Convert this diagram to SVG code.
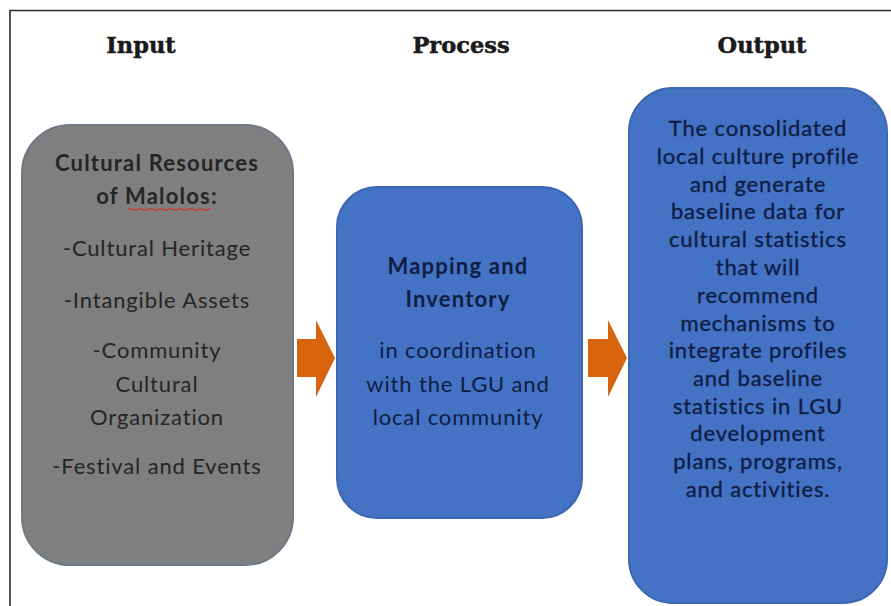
<svg xmlns="http://www.w3.org/2000/svg" width="891" height="606" viewBox="0 0 891 606">
  <defs>
    <style>
      .frame { fill: none; stroke: #2b2b2b; stroke-width: 1.6; }
      .head { font-family: "DejaVu Serif", "Liberation Serif", serif; font-weight: bold; font-size: 22.5px; fill: #1a1a1a; stroke: #1a1a1a; stroke-width: 0.5px; text-anchor: middle; }
      .box-gray { fill: #7f7f7f; stroke: #6f7a88; stroke-width: 2; }
      .box-blue { fill: #4472c4; stroke: #3d66b3; stroke-width: 2; }
      .t { font-family: Lato, "Noto Sans", "Liberation Sans", sans-serif; font-size: 22px; letter-spacing: 0.85px; text-anchor: middle; }
      .t-gray { fill: #252525; }
      .t-blue { fill: #0f1d45; }
      .b { font-weight: bold; letter-spacing: 1.2px; }
      .heavy { stroke: #0f1d45; stroke-width: 0.35px; }
      .arrow { fill: #d8640e; }
    </style>
  </defs>

  <rect width="891" height="606" fill="#ffffff"/>

  <!-- page frame (top and left rules) -->
  <path class="frame" d="M10 606 V10.5 H891"/>

  <!-- column headings -->
  <g id="headings">
    <text class="head" x="141" y="53">Input</text>
    <text class="head" x="461" y="53">Process</text>
    <text class="head" x="762" y="53">Output</text>
  </g>

  <!-- Input -->
  <g id="input">
    <rect class="box-gray" x="22" y="125" width="271" height="440" rx="48" ry="48"/>
    <text class="t t-gray b" x="157" y="171">Cultural Resources</text>
    <text class="t t-gray b" x="157" y="204">of Malolos:</text>
    <path d="M128 209.5 q2.5 -1.5 5 0 t5 0 t5 0 t5 0 t5 0 t5 0 t5 0 t5 0 t5 0 t5 0 t5 0 t5 0 t5 0 t5 0 t5 0 t5 0 t2 0" fill="none" stroke="#cc3a30" stroke-width="1.3"/>
    <text class="t t-gray" x="157" y="256">-Cultural Heritage</text>
    <text class="t t-gray" x="157" y="308">-Intangible Assets</text>
    <text class="t t-gray" x="157" y="358">-Community</text>
    <text class="t t-gray" x="157" y="392">Cultural</text>
    <text class="t t-gray" x="157" y="425">Organization</text>
    <text class="t t-gray" x="157" y="474">-Festival and Events</text>
  </g>

  <!-- Process -->
  <g id="process">
    <rect class="box-blue" x="337" y="187" width="245" height="331" rx="40" ry="40"/>
    <text class="t t-blue b" x="458" y="274">Mapping and</text>
    <text class="t t-blue b" x="458" y="307">Inventory</text>
    <text class="t t-blue" x="458" y="358">in coordination</text>
    <text class="t t-blue" x="458" y="392">with the LGU and</text>
    <text class="t t-blue" x="458" y="425">local community</text>
  </g>

  <!-- Output -->
  <g id="output">
    <rect class="box-blue" x="629" y="88" width="258" height="515" rx="44" ry="44"/>
    <g class="t t-blue heavy">
      <text x="758" y="136">The consolidated</text>
      <text x="758" y="164">local culture profile</text>
      <text x="758" y="192">and generate</text>
      <text x="758" y="219">baseline data for</text>
      <text x="758" y="247">cultural statistics</text>
      <text x="758" y="275">that will</text>
      <text x="758" y="303">recommend</text>
      <text x="758" y="331">mechanisms to</text>
      <text x="758" y="358">integrate profiles</text>
      <text x="758" y="386">and baseline</text>
      <text x="758" y="414">statistics in LGU</text>
      <text x="758" y="441">development</text>
      <text x="758" y="469">plans, programs,</text>
      <text x="758" y="497">and activities.</text>
    </g>
  </g>

  <!-- connectors -->
  <g id="connectors">
    <polygon class="arrow" points="297,339 316,339 316,320 335,358 316,397 316,377 297,377"/>
    <polygon class="arrow" points="588,339 608,339 608,320 627,358 608,397 608,377 588,377"/>
  </g>
</svg>
